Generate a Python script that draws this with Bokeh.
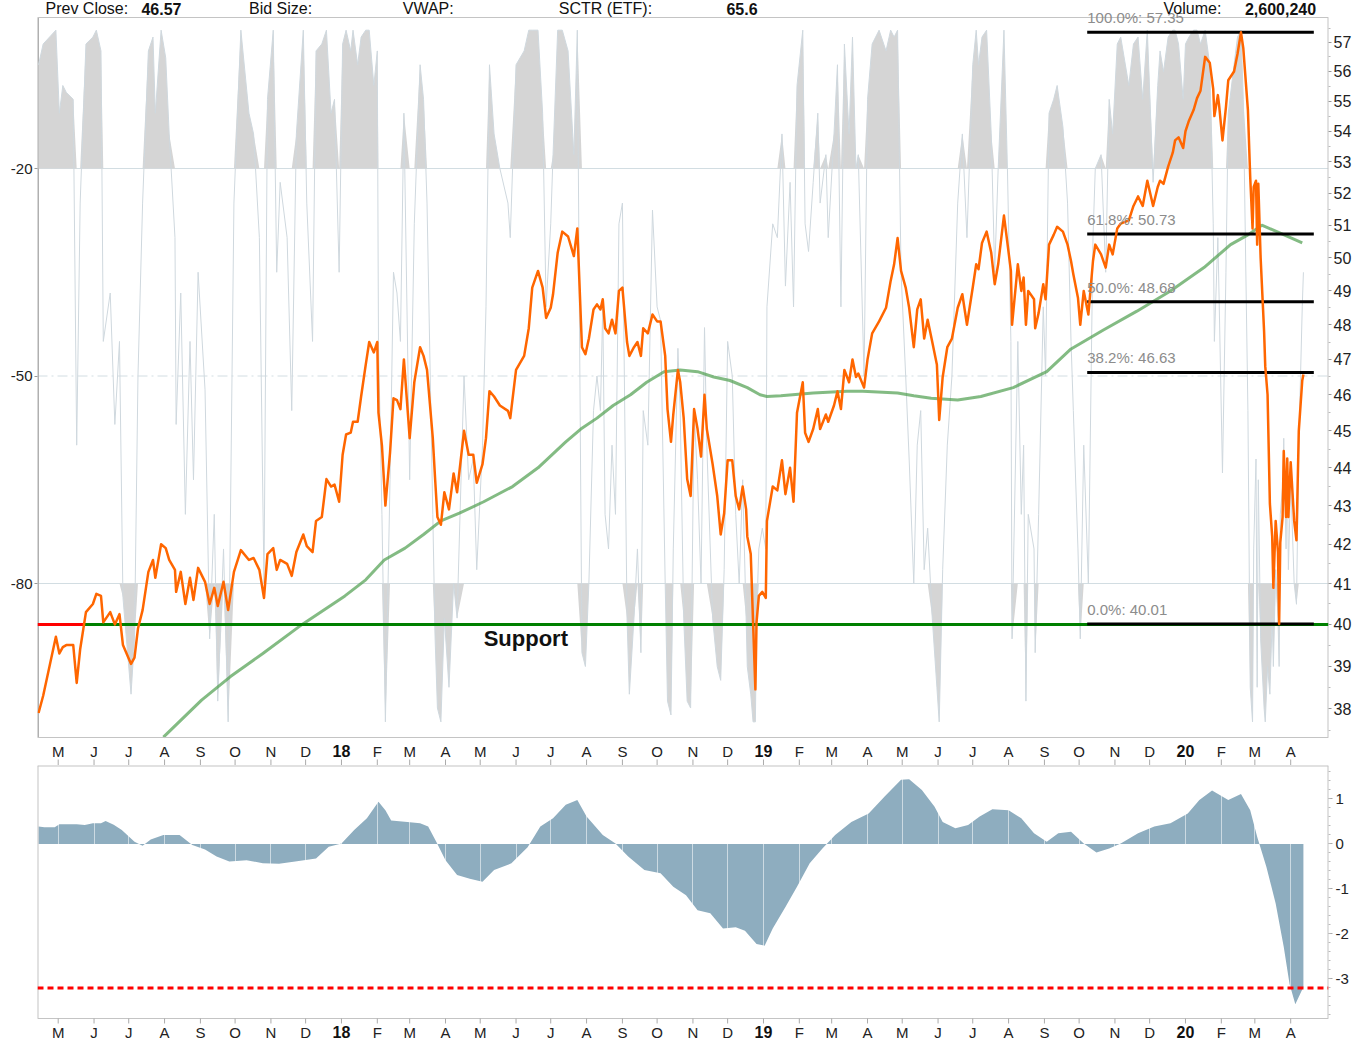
import numpy as np
import pandas as pd
from bokeh.plotting import figure
from bokeh.models import (Range1d, LinearAxis, LinearScale, FixedTicker, Span, Label,
                          BasicTickFormatter)
from bokeh.layouts import column
from bokeh.embed import file_html
from bokeh.resources import INLINE
from bokeh.core.properties import value

FONT = "Liberation Sans"
START = pd.Timestamp("2017-04-14")          # day 0 of all day-offset arrays

# ---------------- data (day offsets from START) ----------------
price_day = [
    0, 4, 15, 18, 21, 24, 30, 33, 36, 41,
    47, 50, 54, 56, 62, 66, 70, 73, 80, 83,
    86, 90, 95, 99, 101, 106, 110, 113, 118, 119,
    123, 127, 131, 134, 138, 144, 148, 152, 155, 160,
    164, 169, 175, 182, 186, 191, 195, 198, 203, 206,
    209, 215, 219, 223, 229, 232, 237, 240, 245, 249,
    253, 256, 260, 263, 266, 270, 272, 276, 279, 283,
    286, 290, 293, 294, 297, 300, 304, 307, 310, 313,
    316, 321, 325, 330, 333, 336, 341, 343, 345, 348,
    351, 355, 359, 362, 368, 372, 376, 379, 384, 387,
    390, 394, 399, 406, 408, 413, 420, 424, 427, 432,
    436, 439, 443, 445, 449, 453, 458, 463, 466, 470,
    473, 476, 480, 483, 486, 488, 490, 493, 496, 499,
    502, 505, 509, 511, 515, 518, 521, 523, 527, 531,
    535, 538, 542, 544, 547, 549, 553, 555, 558, 561,
    564, 567, 570, 573, 576, 578, 583, 587, 590, 593,
    596, 600, 603, 606, 609, 612, 613, 616, 618, 620,
    621, 623, 626, 629, 630, 635, 639, 643, 646, 650,
    653, 656, 661, 663, 666, 670, 674, 676, 681, 683,
    688, 691, 694, 697, 701, 704, 707, 709, 714, 717,
    721, 727, 733, 737, 740, 743, 746, 750, 753, 757,
    760, 763, 766, 769, 773, 777, 779, 782, 786, 790,
    795, 799, 803, 808, 811, 813, 816, 820, 824, 827,
    830, 835, 838, 841, 842, 847, 850, 852, 854, 856,
    861, 862, 865, 869, 871, 874, 878, 881, 886, 890,
    893, 895, 899, 901, 904, 908, 912, 914, 919, 923,
    926, 929, 933, 936, 943, 947, 951, 955, 959, 964,
    968, 970, 973, 977, 981, 983, 986, 990, 992, 995,
    999, 1002, 1005, 1009, 1013, 1016, 1017, 1020, 1021, 1024,
    1027, 1029, 1034, 1037, 1040, 1042, 1046, 1048, 1050, 1051,
    1053, 1054, 1055, 1057, 1060, 1061, 1063, 1065, 1067, 1068,
    1070, 1072, 1073, 1074, 1076, 1077, 1079, 1080, 1081, 1083,
    1086, 1088, 1090, 1093, 1094,
]
price = [
    37.9, 38.3, 39.7, 39.3, 39.45, 39.5, 39.5, 38.6, 39.4, 40.3,
    40.5, 40.75, 40.7, 40.05, 40.3, 40.0, 40.25, 39.5, 39.05, 39.2,
    39.9, 40.35, 41.3, 41.6, 41.15, 42.0, 41.9, 41.6, 41.35, 40.8,
    41.3, 40.5, 41.15, 40.6, 41.4, 41.05, 40.5, 40.9, 40.45, 41.05,
    40.35, 41.3, 41.85, 41.6, 41.65, 41.35, 40.65, 41.75, 41.9, 41.35,
    41.6, 41.5, 41.2, 41.8, 42.25, 41.95, 41.8, 42.6, 42.7, 43.7,
    43.5, 43.55, 43.1, 44.35, 44.9, 44.95, 45.25, 45.25, 45.95, 46.85,
    47.5, 47.2, 47.5, 45.5, 44.6, 43.0, 44.4, 45.9, 45.85, 45.6,
    47.0, 44.8, 46.35, 47.35, 47.1, 46.7, 44.8, 43.7, 42.7, 42.5,
    43.35, 42.9, 43.85, 43.35, 45.0, 44.35, 44.35, 43.6, 44.1, 44.8,
    46.1, 45.95, 45.7, 45.55, 45.35, 46.7, 47.1, 47.9, 49.1, 49.6,
    49.1, 48.2, 48.5, 48.9, 50.15, 50.8, 50.65, 50.05, 50.9, 47.35,
    47.15, 47.6, 48.45, 48.6, 48.45, 48.75, 47.9, 47.75, 48.15, 47.75,
    49.0, 49.1, 47.5, 47.1, 47.35, 47.5, 47.1, 47.9, 47.75, 48.3,
    48.1, 48.1, 47.1, 45.6, 44.7, 45.45, 46.7, 46.35, 45.35, 43.7,
    43.25, 45.6, 45.05, 44.3, 46.0, 45.05, 44.1, 43.25, 42.25, 42.8,
    44.2, 44.2, 43.25, 42.9, 43.5, 42.9, 42.2, 41.75, 40.05, 38.45,
    40.05, 40.7, 40.8, 40.65, 42.6, 43.5, 43.4, 44.2, 43.3, 44.0,
    43.1, 45.5, 46.35, 44.95, 44.7, 45.05, 45.6, 45.05, 45.45, 45.25,
    45.7, 46.1, 45.6, 46.7, 46.35, 47.0, 46.5, 46.6, 46.2, 47.0,
    47.75, 48.1, 48.5, 49.3, 49.8, 50.6, 49.6, 49.1, 48.5, 47.35,
    48.45, 48.75, 47.6, 48.15, 47.5, 46.85, 45.3, 46.5, 47.35, 47.6,
    48.5, 48.9, 48.0, 49.1, 49.8, 49.65, 50.45, 50.8, 50.15, 49.2,
    49.8, 51.3, 50.45, 49.6, 48.0, 49.8, 49.0, 49.4, 48.0, 49.0,
    48.75, 47.9, 48.35, 49.2, 48.75, 50.4, 50.7, 50.95, 50.8, 50.4,
    49.9, 49.5, 48.8, 48.0, 49.0, 48.3, 49.9, 50.4, 50.1, 49.7,
    50.4, 50.1, 50.9, 51.05, 51.15, 51.6, 51.9, 51.6, 52.4, 51.6,
    52.2, 52.4, 52.3, 52.85, 53.3, 53.7, 53.8, 53.45, 54.0, 54.35,
    54.7, 55.1, 55.35, 56.5, 56.3, 55.4, 54.5, 55.2, 54.9, 53.7,
    54.8, 55.7, 56.0, 56.6, 57.35, 56.8, 54.7, 52.5, 50.9, 52.2,
    52.4, 50.4, 52.3, 50.0, 47.8, 46.8, 46.0, 43.05, 42.2, 40.9,
    42.6, 41.8, 40.01, 42.05, 42.7, 44.45, 42.7, 44.25, 42.7, 44.15,
    42.6, 42.1, 45.0, 46.4, 46.57,
]
osc = [   # Williams %R style oscillator, same days as price
    -5, -2, 0, -12, -8, -9, -10, -60, -25, -2,
    -1, 0, -3, -45, -38, -57, -45, -82, -96, -88,
    -50, -25, -3, -1, -12, 0, -4, -15, -30, -57,
    -38, -70, -45, -65, -35, -52, -88, -70, -97, -75,
    -100, -25, 0, -12, -15, -30, -80, -10, 0, -35,
    -22, -30, -55, -15, 0, -25, -45, -3, -2, 0,
    -12, -10, -35, -2, 0, -3, 0, -5, -1, 0,
    0, -8, -3, -45, -70, -100, -65, -35, -38, -45,
    -12, -65, -28, -5, -10, -25, -70, -88, -98, -100,
    -85, -95, -80, -85, -50, -65, -62, -78, -60, -40,
    -5, -15, -20, -25, -30, -5, -3, 0, 0, 0,
    -12, -40, -28, -18, 0, 0, -3, -18, 0, -90,
    -92, -80, -55, -50, -55, -40, -70, -75, -60, -70,
    -28, -25, -85, -96, -85, -75, -90, -55, -60, -26,
    -40, -42, -80, -97, -99, -75, -46, -55, -85, -97,
    -98, -55, -65, -80, -43, -60, -85, -92, -94, -78,
    -45, -50, -70, -80, -65, -85, -92, -96, -100, -100,
    -85, -75, -72, -75, -40, -28, -30, -15, -37, -22,
    -40, -8, 0, -28, -32, -22, -12, -25, -18, -30,
    -15, -5, -40, -2, -15, -1, -20, -18, -50, -10,
    -2, 0, -3, 0, -1, 0, -35, -50, -62, -80,
    -60, -55, -78, -72, -85, -95, -100, -78, -60, -50,
    -25, -15, -30, -5, 0, -5, -1, 0, -15, -35,
    -20, 0, -20, -45, -88, -45, -70, -60, -97, -70,
    -75, -90, -70, -40, -50, -12, -10, -8, -14, -25,
    -45, -55, -75, -88, -60, -80, -30, -20, -18, -35,
    -10, -15, -2, -1, -8, -2, -1, -10, 0, -22,
    -8, -3, -6, -1, 0, 0, -2, -10, -2, -1,
    0, 0, -2, 0, -5, -28, -45, -30, -38, -64,
    -35, -12, -5, -1, 0, -10, -55, -95, -100, -75,
    -62, -95, -65, -88, -98, -100, -92, -96, -85, -92,
    -78, -85, -92, -70, -66, -59, -75, -62, -78, -65,
    -80, -83, -60, -40, -35,
]
ma_day = [108, 141, 166, 194, 228, 265, 283, 299, 317, 333,
          348, 364, 385, 410, 432, 456, 469, 483, 497, 512,
          526, 541, 555, 570, 584, 598, 613, 624, 630, 642,
          670, 699, 713, 743, 757, 772, 795, 815, 843, 872,
          893, 921, 950, 979, 1008, 1031, 1046, 1058, 1071, 1093]
ma = [37.35, 38.2, 38.75, 39.3, 40.0, 40.7, 41.1, 41.6, 41.9, 42.25,
      42.6, 42.8, 43.1, 43.5, 44.0, 44.7, 45.05, 45.35, 45.7, 46.0,
      46.35, 46.65, 46.7, 46.65, 46.5, 46.4, 46.2, 46.0, 45.95, 45.97,
      46.05, 46.1, 46.1, 46.05, 45.97, 45.9, 45.85, 45.95, 46.2, 46.65,
      47.3, 47.85, 48.4, 49.0, 49.7, 50.4, 50.7, 51.0, 50.8, 50.45]
hist_day = [0, 5, 14, 18, 33, 40, 47, 54, 58, 65,
            72, 83, 90, 97, 108, 122, 133, 144, 154, 165,
            180, 194, 208, 222, 240, 251, 262, 273, 284, 294,
            300, 305, 319, 330, 337, 344, 352, 362, 373, 384,
            394, 409, 423, 434, 445, 456, 466, 474, 488, 499,
            510, 524, 538, 549, 560, 570, 581, 592, 603, 611,
            621, 628, 635, 646, 656, 667, 678, 689, 703, 718,
            732, 746, 753, 764, 775, 782, 793, 804, 814, 825,
            839, 850, 861, 872, 882, 893, 904, 915, 926, 936,
            951, 965, 979, 994, 1004, 1015, 1029, 1040, 1048, 1054,
            1062, 1070, 1077, 1082, 1087, 1094]
hist = [0.39, 0.37, 0.37, 0.44, 0.44, 0.42, 0.46, 0.46, 0.51, 0.43,
        0.31, 0.05, -0.04, 0.1, 0.2, 0.2, -0.02, -0.12, -0.28, -0.39,
        -0.36, -0.43, -0.44, -0.39, -0.32, -0.06, 0.01, 0.31, 0.57, 0.94,
        0.75, 0.52, 0.49, 0.46, 0.39, 0.05, -0.36, -0.69, -0.77, -0.84,
        -0.58, -0.43, -0.07, 0.39, 0.57, 0.87, 0.98, 0.61, 0.2, 0.01,
        -0.28, -0.58, -0.65, -0.95, -1.14, -1.47, -1.54, -1.88, -1.85, -1.93,
        -2.22, -2.26, -1.88, -1.4, -0.95, -0.43, -0.1, 0.2, 0.49, 0.68,
        1.06, 1.43, 1.44, 1.2, 0.83, 0.49, 0.35, 0.42, 0.61, 0.77,
        0.75, 0.57, 0.24, 0.05, 0.24, 0.27, 0.01, -0.19, -0.1, 0.01,
        0.24, 0.39, 0.46, 0.68, 0.98, 1.19, 0.98, 1.11, 0.75, 0.16,
        -0.51, -1.32, -2.29, -3.11, -3.56, -3.18]

fib_pct = ["100.0%", "61.8%", "50.0%", "38.2%", "0.0%"]
fib_val = [57.35, 50.73, 48.68, 46.63, 40.01]
fib_start, fib_end = "2019-10-08", "2020-04-21"
support_level = 40.0
support_red_end = "2017-05-24"
support_label_date = "2018-05-04"
alert_level = -3.2
osc_upper, osc_mid, osc_lower = -20, -50, -80
osc_ticks = [-80, -50, -20]
price_ticks = list(range(38, 58))
hist_ticks = [-3, -2, -1, 0, 1]
header = [("Prev Close:", 6, "normal", "left"), ("46.57", 89, "bold", "left"),
          ("Bid Size:", 182, "normal", "left"), ("VWAP:", 315, "normal", "left"),
          ("SCTR (ETF):", 450, "normal", "left"), ("65.6", 595, "bold", "left"),
          ("Volume:", 1023, "normal", "right"), ("2,600,240", 1105, "bold", "right")]


def dday(s):
    return (pd.Timestamp(s) - START).days


months = pd.date_range("2017-05-01", "2020-04-01", freq="MS")
month_days = [dday(m) for m in months]
mon_days = [d for d, m in zip(month_days, months) if m.month != 1]
mon_txt = [m.strftime("%b")[0] for m in months if m.month != 1]
yr_days = [d for d, m in zip(month_days, months) if m.month == 1]
yr_txt = [m.strftime("%y") for m in months if m.month == 1]

# ---------------- geometry ----------------
X0, X1 = -0.9, 1115.7
PX_LN = 1643.0                 # px per ln-unit, price axis
PX_O = 6.917                   # px per unit, oscillator axis
PX_H = 45.0                    # px per unit, lower panel
P_LO, P_HI = 37.34, 57.87      # price chart box
O_LO, O_HI = -102.26, 1.83     # oscillator chart box
H_LO, H_HI = -3.878, 1.744     # lower chart box
TOP_PAD, BOT_PAD = 17, 28      # px of header / date-label strip inside upper frame
LOW_PAD = 23                   # px of date-label strip inside lower frame
BORDER = "#c4c4c4"


def p_off(px):                 # price factor for px above (+) / below (-) a level
    return np.exp(px / PX_LN)


# ---------------- top panel ----------------
p1 = figure(width=1362, height=765, title=None,
            x_range=Range1d(X0, X1),
            y_range=Range1d(P_LO * p_off(-BOT_PAD), P_HI * p_off(TOP_PAD)),
            y_axis_type="log", y_axis_location="right",
            output_backend="svg", toolbar_location=None,
            min_border_left=37, min_border_right=34, min_border_top=0, min_border_bottom=0,
            background_fill_color="white", border_fill_color="white",
            outline_line_color=None)
p1.extra_y_ranges = {"osc": Range1d(O_LO - BOT_PAD / PX_O, O_HI + TOP_PAD / PX_O)}
p1.extra_y_scales = {"osc": LinearScale()}
p1.grid.visible = False
p1.xaxis.visible = False

ya = p1.yaxis[0]
ya.ticker = FixedTicker(ticks=price_ticks, minor_ticks=[t + 0.5 for t in range(37, 58)])
ya.formatter = BasicTickFormatter()
ya.major_label_text_font = FONT
ya.major_label_text_font_size = "16px"
ya.major_label_text_color = "#222222"
ya.major_tick_out = 3
ya.major_tick_in = 0
ya.minor_tick_out = 2
ya.minor_tick_in = 0
ya.major_label_standoff = 2
ya.axis_line_color = None
ya.major_tick_line_color = "#999999"
ya.minor_tick_line_color = "#bbbbbb"

la = LinearAxis(y_range_name="osc", ticker=FixedTicker(ticks=osc_ticks),
                major_label_overrides={t: str(t) for t in osc_ticks},
                major_label_text_font=FONT, major_label_text_font_size="15px",
                major_label_text_color="#222222", major_tick_out=3, major_tick_in=0,
                minor_tick_line_color=None, axis_line_color=None,
                major_tick_line_color="#999999", major_label_standoff=2)
p1.add_layout(la, "left")

# chart box
p1.add_layout(Span(location=P_HI, dimension="width", line_color=BORDER, line_width=1))
p1.add_layout(Span(location=P_LO, dimension="width", line_color=BORDER, line_width=1))
p1.segment(x0=[X0], x1=[X0], y0=[P_LO], y1=[P_HI], line_color="#b0b0b0", line_width=3)
p1.segment(x0=[X1], x1=[X1], y0=[P_LO], y1=[P_HI], line_color=BORDER, line_width=2)

for lvl, dash in [(osc_upper, "solid"), (osc_mid, "10 4 2 4"), (osc_lower, "solid")]:
    p1.add_layout(Span(location=lvl, dimension="width", y_range_name="osc",
                       line_color="#d2dde2", line_width=1, line_dash=dash, level="underlay"))

osc_arr = np.array(osc, dtype=float)
n = len(osc_arr)
p1.varea(x=price_day, y1=np.full(n, float(osc_upper)), y2=np.maximum(osc_arr, osc_upper),
         y_range_name="osc", fill_color="#d5d5d5")
p1.varea(x=price_day, y1=np.minimum(osc_arr, osc_lower), y2=np.full(n, float(osc_lower)),
         y_range_name="osc", fill_color="#d5d5d5")
p1.line(price_day, osc, y_range_name="osc", line_color="#cfd8de", line_width=1)

p1.line(ma_day, ma, line_color="#4e9e4e", line_alpha=0.7, line_width=3)

red_end = dday(support_red_end)
p1.segment(x0=[X0], x1=[red_end], y0=[support_level], y1=[support_level],
           line_color="#ff0000", line_width=3)
p1.segment(x0=[red_end], x1=[X1], y0=[support_level], y1=[support_level],
           line_color="#008000", line_width=3)

fs, fe = dday(fib_start), dday(fib_end)
p1.segment(x0=[fs] * len(fib_val), x1=[fe] * len(fib_val), y0=fib_val, y1=fib_val,
           line_color="black", line_width=3)

p1.line(price_day, price, line_color="#ff6600", line_width=2.5, line_join="round")

for pct, v in zip(fib_pct, fib_val):
    p1.add_layout(Label(x=fs, y=v, text=f"{pct}: {v:.2f}", text_baseline="bottom",
                        y_offset=6, text_font=FONT, text_font_size="15px",
                        text_color="#8c8c8c"))

p1.add_layout(Label(x=dday(support_label_date), y=39.66, text="Support", text_baseline="middle",
                    text_font=FONT, text_font_size="22px", text_font_style="bold",
                    text_color="#111111"))

# header strip (kept fully inside the page, as high as possible)
for txt, d, style, align in header:
    p1.text(x=[d], y=[P_HI * p_off(9)], text=[txt], text_baseline="alphabetic",
            text_align=align, text_font=value(FONT), text_font_size=value("16px"),
            text_font_style=value(style), text_color="#111111", level="overlay")

# date strip between panels: labels + ticks that belong to the lower panel's top edge
y_lab1 = P_LO * p_off(-14)
p1.text(x=mon_days, y=[y_lab1] * len(mon_days), text=mon_txt, text_align="center",
        text_baseline="middle", text_font=value(FONT), text_font_size=value("15px"),
        text_color="#222222", level="overlay")
p1.text(x=yr_days, y=[y_lab1] * len(yr_days), text=yr_txt, text_align="center",
        text_baseline="middle", text_font=value(FONT), text_font_size=value("16px"),
        text_font_style=value("bold"), text_color="#111111", level="overlay")
p1.segment(x0=month_days, x1=month_days, y0=[P_LO * p_off(-22)] * len(month_days),
           y1=[P_LO * p_off(-BOT_PAD)] * len(month_days), line_color="#aaaaaa", line_width=1)

# ---------------- bottom panel ----------------
p2 = figure(width=1362, height=276, title=None,
            x_range=p1.x_range, y_range=Range1d(H_LO - LOW_PAD / PX_H, H_HI),
            y_axis_location="right", output_backend="svg", toolbar_location=None,
            min_border_left=37, min_border_right=34, min_border_top=0, min_border_bottom=0,
            background_fill_color="white", border_fill_color="white",
            outline_line_color=None)
p2.ygrid.visible = False
p2.xaxis.visible = False
p2.xgrid.ticker = FixedTicker(ticks=month_days)
p2.xgrid.grid_line_color = "white"
p2.xgrid.grid_line_alpha = 0.55
p2.xgrid.level = "guide"

p2.varea(x=hist_day, y1=np.zeros(len(hist)), y2=hist, fill_color="#8eadbf")
p2.add_layout(Span(location=alert_level, dimension="width", line_color="#ff0000",
                   line_width=3, line_dash="6 4"))

p2.add_layout(Span(location=H_HI, dimension="width", line_color=BORDER, line_width=2))
p2.add_layout(Span(location=H_LO, dimension="width", line_color=BORDER, line_width=1))
p2.segment(x0=[X0], x1=[X0], y0=[H_LO], y1=[H_HI], line_color=BORDER, line_width=2)
p2.segment(x0=[X1], x1=[X1], y0=[H_LO], y1=[H_HI], line_color=BORDER, line_width=2)

yb = p2.yaxis[0]
yb.ticker = FixedTicker(ticks=hist_ticks,
                        minor_ticks=[round(-3.8 + 0.2 * i, 1) for i in range(28)])
yb.major_label_overrides = {t: str(t) for t in hist_ticks}
yb.major_label_text_font = FONT
yb.major_label_text_font_size = "15px"
yb.major_label_text_color = "#222222"
yb.major_tick_out = 4
yb.major_tick_in = 0
yb.minor_tick_out = 2
yb.minor_tick_in = 0
yb.major_label_standoff = 3
yb.axis_line_color = None
yb.major_tick_line_color = "#aaaaaa"
yb.minor_tick_line_color = "#bbbbbb"

y_lab2 = H_LO - 14 / PX_H
p2.segment(x0=month_days, x1=month_days, y0=[H_LO] * len(month_days),
           y1=[H_LO - 5 / PX_H] * len(month_days), line_color="#aaaaaa", line_width=1,
           level="overlay")
p2.text(x=mon_days, y=[y_lab2] * len(mon_days), text=mon_txt, text_align="center",
        text_baseline="middle", text_font=value(FONT), text_font_size=value("15px"),
        text_color="#222222", level="overlay")
p2.text(x=yr_days, y=[y_lab2] * len(yr_days), text=yr_txt, text_align="center",
        text_baseline="middle", text_font=value(FONT), text_font_size=value("16px"),
        text_font_style=value("bold"), text_color="#111111", level="overlay")

layout = column(p1, p2)
open("out.html", "w").write(file_html(layout, INLINE, title="chart"))
